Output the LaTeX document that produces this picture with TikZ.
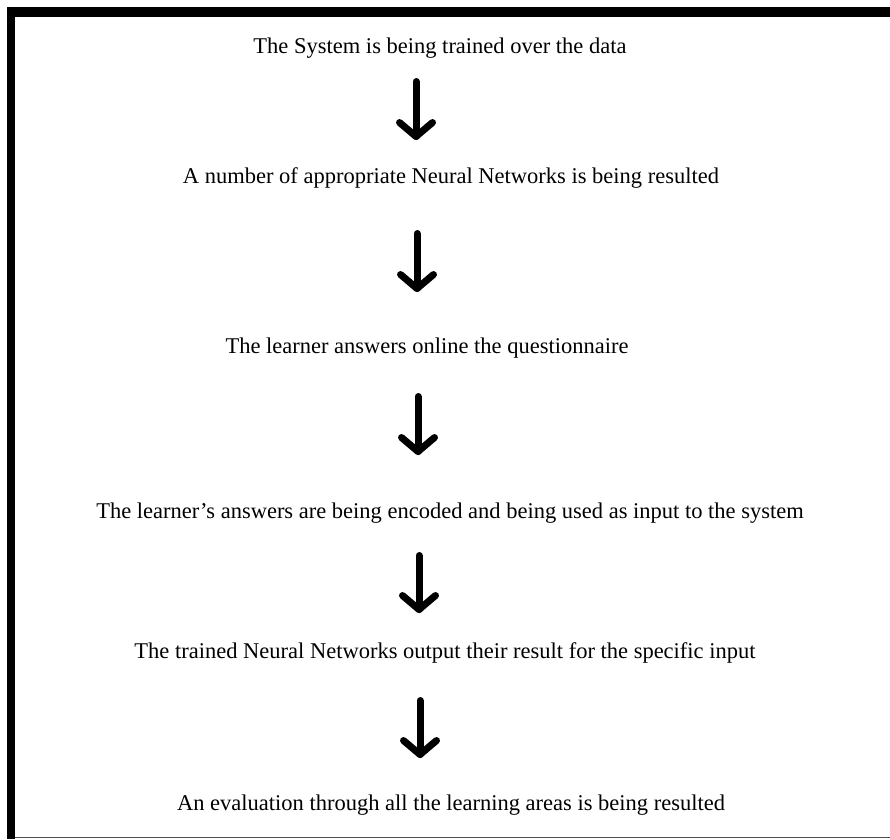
\documentclass[tikz,border=0pt]{standalone}
\usepackage{fontspec}
\setmainfont{Liberation Serif}
\begin{document}
\begin{tikzpicture}[x=1pt,y=-1pt,
  lbl/.style={anchor=base,inner sep=0pt,font=\fontsize{22.5}{27}\selectfont},
  shaft/.style={line width=7pt,line cap=round,line join=round},
  barb/.style={line width=7pt,line cap=round,line join=round}]
\useasboundingbox (0,0) rectangle (890,839);
\fill[white] (0,0) rectangle (890,839);
% frame
\fill[black] (7,7) rectangle (890,16.5);
\fill[black] (7,7) rectangle (15,839);
\draw[black!70, line width=1.5pt] (15,837.5) -- (890,837.5);
% texts
\node[lbl] (t1) at (440,53) {The System is being trained over the data};
\node[lbl] (t2) at (451,183) {A number of appropriate Neural Networks is being resulted};
\node[lbl] (t3) at (427,353) {The learner answers online the questionnaire};
\node[lbl] (t4) at (450,518) {The learner’s answers are being encoded and being used as input to the system};
\node[lbl] (t5) at (445,658) {The trained Neural Networks output their result for the specific input};
\node[lbl] (t6) at (451,810) {An evaluation through all the learning areas is being resulted};
% arrows
\coordinate (a1s) at (416,81.5);  \coordinate (a1e) at (416,136.5);
\coordinate (a2s) at (417,233.5); \coordinate (a2e) at (417,288.5);
\coordinate (a3s) at (418,396.5); \coordinate (a3e) at (418,451.5);
\coordinate (a4s) at (419,555.5); \coordinate (a4e) at (419,609.5);
\coordinate (a5s) at (420,700.5); \coordinate (a5e) at (420,754.5);
\foreach \i in {1,...,5}{
  \draw[shaft] (a\i s) -- (a\i e);
  \draw[barb] ([shift={(-16.5,-14)}]a\i e) -- (a\i e) -- ([shift={(16.5,-14)}]a\i e);
}
\end{tikzpicture}
\end{document}
